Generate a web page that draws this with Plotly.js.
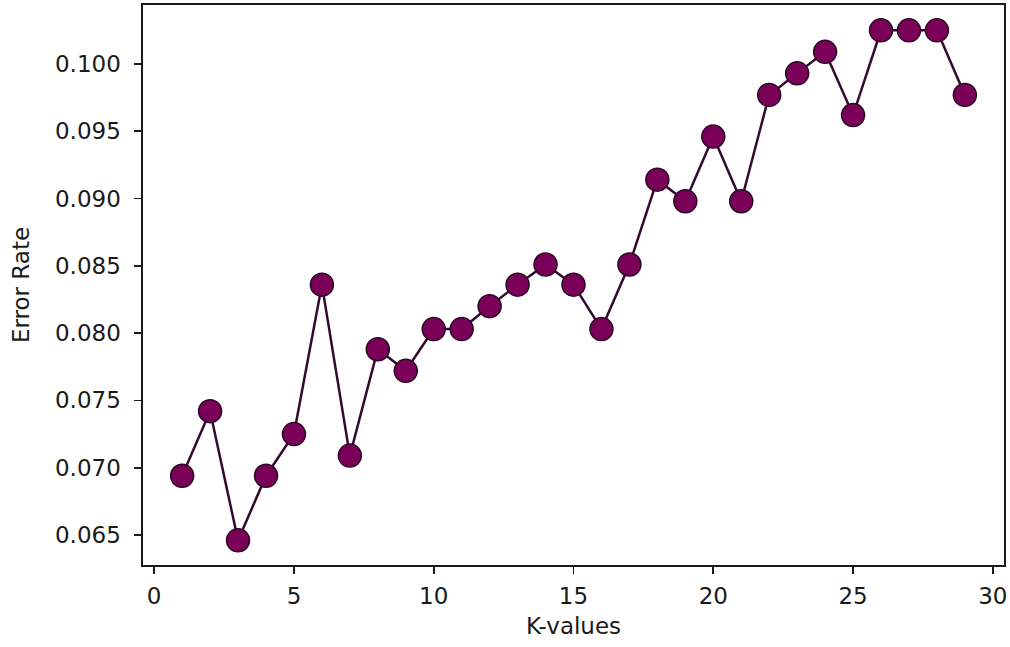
<!DOCTYPE html>
<html>
<head>
<meta charset="utf-8">
<script src="https://cdn.plot.ly/plotly-3.0.1.min.js"></script>
<style>html,body{margin:0;padding:0;background:#fff;}#chart{width:1010px;height:647px;}</style>
</head>
<body>
<div id="chart"></div>
<script>
const kValues = [1,2,3,4,5,6,7,8,9,10,11,12,13,14,15,16,17,18,19,20,21,22,23,24,25,26,27,28,29];
const errorRate = [0.0694,0.0742,0.0646,0.0694,0.0725,0.0836,0.0709,0.0788,0.0772,0.0803,0.0803,0.0820,0.0836,0.0851,0.0836,0.0803,0.0851,0.0914,0.0898,0.0946,0.0898,0.0977,0.0993,0.1009,0.0962,0.1025,0.1025,0.1025,0.0977];
const xTicks = [0,5,10,15,20,25,30];
const yTicks = [0.065,0.070,0.075,0.080,0.085,0.090,0.095,0.100];

const font = {family: 'DejaVu Sans', size: 23, color: '#1a1a1a'};
const data = [{
  x: kValues, y: errorRate, type: 'scatter', mode: 'lines+markers',
  line: {color: '#33092d', width: 2.5},
  marker: {size: 23, color: '#7a0058', line: {color: '#2a0826', width: 1.5}},
  hoverinfo: 'x+y'
}];
const axisCommon = {
  showline: true, mirror: true, linecolor: '#1a1a1a', linewidth: 1.6,
  ticks: 'outside', ticklen: 7, tickwidth: 1.6, tickcolor: '#1a1a1a',
  showgrid: false, zeroline: false, tickfont: font, automargin: false
};
const layout = {
  width: 1010, height: 647,
  margin: {l: 143, r: 6, t: 5, b: 82},
  paper_bgcolor: '#fff', plot_bgcolor: '#fff',
  showlegend: false,
  xaxis: Object.assign({}, axisCommon, {
    range: [-0.4, 30.4], tickvals: xTicks, ticktext: xTicks.map(String),
    ticklabelstandoff: 3,
    title: {text: 'K-values', font: font, standoff: 9}
  }),
  yaxis: Object.assign({}, axisCommon, {
    range: [0.06277, 0.10438], tickvals: yTicks, ticktext: yTicks.map(v => v.toFixed(3)),
    ticklabelstandoff: 9,
    title: {text: 'Error Rate', font: font, standoff: 19}
  })
};
Plotly.newPlot('chart', data, layout, {displayModeBar: false, staticPlot: true});
</script>
</body>
</html>
